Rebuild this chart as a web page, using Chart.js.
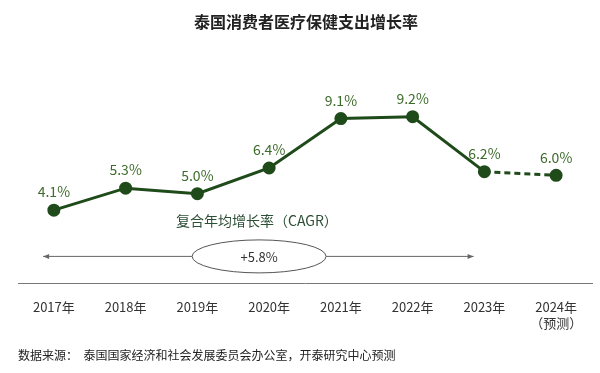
<!DOCTYPE html>
<html>
<head>
<meta charset="utf-8">
<script src="https://cdn.jsdelivr.net/npm/chart.js@4"></script>
<style>
  html, body { margin: 0; padding: 0; background: #fff; }
  #wrap { width: 600px; height: 373px; }
</style>
</head>
<body>
<div id="wrap"><canvas id="growthChart"></canvas></div>
<script>
const years = ['2017年', '2018年', '2019年', '2020年', '2021年', '2022年', '2023年', ['2024年', '（预测）']];
const growthRates = [4.1, 5.3, 5.0, 6.4, 9.1, 9.2, 6.2, 6.0];
const cagrLabel = '复合年均增长率（CAGR）';
const cagrValue = '+5.8%';
const forecastFrom = 6; // segment from this index on is a forecast

const cjkFont = '"Noto Sans CJK SC", "Noto Sans", sans-serif';
const lineColor = '#1f4a1a';
const labelColor = '#3d6b2a';

// value labels above points + CAGR annotation
const annotations = {
    id: 'annotations',
    afterDatasetsDraw(chart) {
        const ctx = chart.ctx;
        const meta = chart.getDatasetMeta(0);
        const x = chart.scales.x;
        const area = chart.chartArea;

        ctx.save();
        ctx.font = '14px ' + cjkFont;
        ctx.fillStyle = labelColor;
        ctx.textAlign = 'center';
        ctx.textBaseline = 'middle';
        meta.data.forEach((pt, i) => {
            ctx.fillText(growthRates[i].toFixed(1) + '%', pt.x, pt.y - 18);
        });

        // CAGR title
        ctx.font = '14px ' + cjkFont;
        ctx.fillStyle = '#2d4f35';
        ctx.fillText(cagrLabel, x.getPixelForValue(2.83), area.bottom - 63);

        // double arrow
        const y = area.bottom - 27;
        const x0 = x.getPixelForValue(-0.15);
        const x1 = x.getPixelForValue(5.85);
        ctx.strokeStyle = '#666';
        ctx.fillStyle = '#666';
        ctx.lineWidth = 1;
        ctx.beginPath();
        ctx.moveTo(x0, y);
        ctx.lineTo(x1, y);
        ctx.stroke();
        [[x0, 1], [x1, -1]].forEach(([ax, dir]) => {
            ctx.beginPath();
            ctx.moveTo(ax, y);
            ctx.lineTo(ax + dir * 6, y - 2.5);
            ctx.lineTo(ax + dir * 6, y + 2.5);
            ctx.closePath();
            ctx.fill();
        });

        // ellipse with value
        const cx = x.getPixelForValue(2.86);
        ctx.beginPath();
        ctx.ellipse(cx, y, 67, 16.5, 0, 0, Math.PI * 2);
        ctx.fillStyle = '#fff';
        ctx.fill();
        ctx.strokeStyle = '#555';
        ctx.stroke();
        ctx.fillStyle = '#333';
        ctx.font = '13px ' + cjkFont;
        ctx.fillText(cagrValue, cx, y + 1);
        ctx.restore();
    }
};

new Chart(document.getElementById('growthChart'), {
    type: 'line',
    data: {
        labels: years,
        datasets: [{
            data: growthRates,
            borderColor: lineColor,
            backgroundColor: lineColor,
            borderWidth: 3,
            pointRadius: 5,
            pointHoverRadius: 5,
            tension: 0,
            segment: {
                borderDash: ctx => ctx.p0DataIndex >= forecastFrom ? [6, 4] : undefined
            }
        }]
    },
    options: {
        responsive: true,
        maintainAspectRatio: false,
        animation: false,
        layout: {
            padding: { left: 18, right: 6, top: 0, bottom: 0 }
        },
        plugins: {
            legend: { display: false },
            tooltip: { enabled: false },
            title: {
                display: true,
                text: '泰国消费者医疗保健支出增长率',
                color: '#222',
                font: { family: cjkFont, size: 16, weight: 'bold' },
                padding: { top: 12, bottom: 30 }
            },
            subtitle: {
                display: true,
                position: 'bottom',
                align: 'start',
                text: '数据来源：  泰国国家经济和社会发展委员会办公室，开泰研究中心预测',
                color: '#222',
                font: { family: cjkFont, size: 12 },
                padding: { top: 10, bottom: 10 }
            }
        },
        scales: {
            x: {
                offset: true,
                grid: { display: false },
                border: { display: true, color: '#777', width: 1 },
                ticks: {
                    color: '#333',
                    padding: 8,
                    font: { family: cjkFont, size: 13 }
                }
            },
            y: {
                display: false,
                min: 0.1,
                max: 12.23
            }
        }
    },
    plugins: [annotations]
});
</script>
</body>
</html>
